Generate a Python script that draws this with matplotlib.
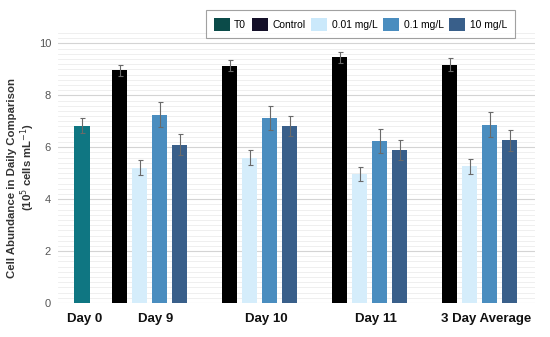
import numpy as np
import matplotlib
matplotlib.use("Agg")
from matplotlib import pyplot as plt
from matplotlib.patches import Patch
from matplotlib.ticker import MultipleLocator

plt.rcParams['font.family'] = ['Liberation Sans', 'DejaVu Sans']

# data (10^5 cells/mL)
days = ['Day 9', 'Day 10', 'Day 11', '3 Day Average']
series = ['Control', '0.01 mg/L', '0.1 mg/L', '10 mg/L']
t0_value = 6.83
t0_err = 0.30
means = {
    'Control':   [8.96, 9.14, 9.46, 9.18],
    '0.01 mg/L': [5.21, 5.60, 4.98, 5.26],
    '0.1 mg/L':  [7.26, 7.13, 6.23, 6.87],
    '10 mg/L':   [6.10, 6.81, 5.90, 6.27],
}
errs = {
    'Control':   [0.22, 0.22, 0.22, 0.24],
    '0.01 mg/L': [0.28, 0.28, 0.27, 0.29],
    '0.1 mg/L':  [0.47, 0.46, 0.47, 0.48],
    '10 mg/L':   [0.40, 0.38, 0.38, 0.40],
}

# styles
bar_colors = {'Control': '#000000', '0.01 mg/L': '#d5edfb',
              '0.1 mg/L': '#4a8dbf', '10 mg/L': '#395f8a'}
legend_colors = {'T0': '#0b4b49', 'Control': '#141028', '0.01 mg/L': '#cbe9fb',
                 '0.1 mg/L': '#4a8dbf', '10 mg/L': '#395f8a'}
t0_color = '#0f7682'

# layout
group_pitch = 5.5
bar_w = 0.78
t0_x = -1.875

fig = plt.figure(figsize=(5.5, 3.37), dpi=100)
ax = fig.add_axes([58/550, 1 - 303/337, (535 - 58)/550, (303 - 33)/337])

err_kw = dict(ecolor='#6a6a6a', elinewidth=0.8, capsize=1.8, capthick=0.8)

ax.bar(t0_x, t0_value, width=bar_w, color=t0_color, yerr=t0_err,
       error_kw=err_kw, zorder=3)

base = np.arange(len(days)) * group_pitch
for i, s in enumerate(series):
    ax.bar(base + i, means[s], width=bar_w, color=bar_colors[s],
           yerr=errs[s], error_kw=err_kw, zorder=3)

ax.set_xlim(-3.075, 20.775)
ax.set_ylim(0, 10.4)
ax.yaxis.set_major_locator(MultipleLocator(2))
ax.yaxis.set_minor_locator(MultipleLocator(0.2))
ax.grid(which='major', axis='y', color='#d4d4d4', lw=0.8, zorder=0)
ax.grid(which='minor', axis='y', color='#ececec', lw=0.6, zorder=0)
for sp in ax.spines.values():
    sp.set_visible(False)

tick_pos = [t0_x + 0.12] + list(base + 1.5 + 0.33)
ax.set_xticks(tick_pos)
ax.set_xticklabels(['Day 0'] + days, fontsize=9.5, fontweight='bold',
                   color='#111111')
ax.tick_params(axis='x', length=0, pad=7)
ax.tick_params(axis='y', which='both', length=0, labelsize=8,
               labelcolor='#555555', pad=5)

# y label, two lines placed separately
fig.text(12/550, 1 - 178/337, 'Cell Abundance in Daily Comparison',
         rotation=90, ha='center', va='center', fontsize=8.2,
         fontweight='bold', color='#333333')
fig.text(28/550, 1 - 167/337, '(10$^5$ cells mL$^{-1}$)',
         rotation=90, ha='center', va='center', fontsize=8.2,
         fontweight='bold', color='#333333')

handles = [Patch(facecolor=legend_colors[k], edgecolor='none')
           for k in ['T0'] + series]
leg = fig.legend(handles, ['T0'] + series, loc='upper left',
                 bbox_to_anchor=(206/550, 1 - 10/337), ncol=5, fontsize=7.4,
                 frameon=True, fancybox=False, handlelength=1.55,
                 handleheight=1.55, handletextpad=0.45, columnspacing=0.55,
                 borderpad=0.75, borderaxespad=0)
leg.get_frame().set_edgecolor('#8a8a8a')
leg.get_frame().set_linewidth(0.8)

fig.savefig('out.png', dpi=100)
